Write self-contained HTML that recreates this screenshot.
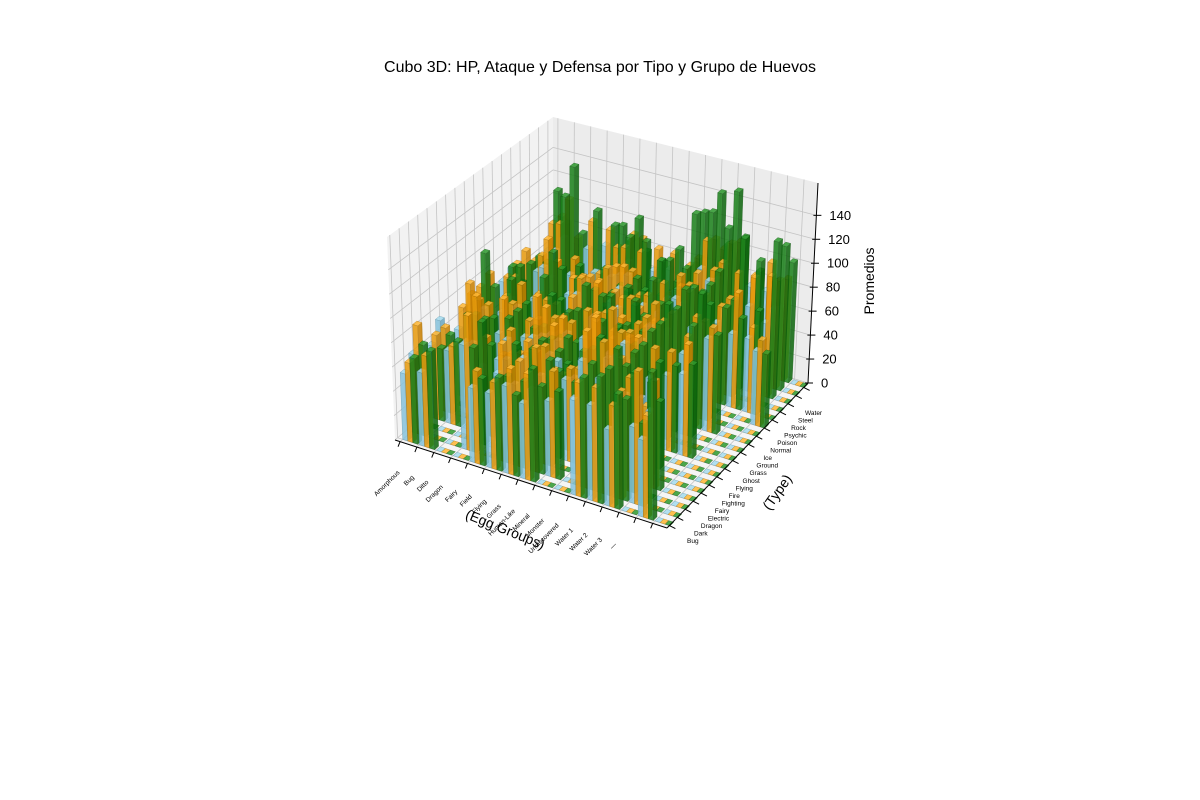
<!DOCTYPE html>
<html><head><meta charset="utf-8"><style>
body{margin:0;background:#fff;}
svg{display:block;font-family:"Liberation Sans","DejaVu Sans",sans-serif;}
</style></head><body>
<svg id="chart" width="1200" height="800" viewBox="0 0 1200 800">
<text x="600" y="72" text-anchor="middle" font-size="16" fill="#000">Cubo 3D: HP, Ataque y Defensa por Tipo y Grupo de Huevos</text>
<g id="panes"></g>
<g id="grid"></g>
<g id="bars"></g>
<g id="axes"></g>
<text x="505" y="534" text-anchor="middle" font-size="14" transform="rotate(22 505 530)">(Egg Groups)</text>
<text x="777" y="497" text-anchor="middle" font-size="14" transform="rotate(-55 777 492)">(Type)</text>
<text x="874" y="281" text-anchor="middle" font-size="14" transform="rotate(-90 874 281)">Promedios</text>
</svg>
<script>
const eggGroups = ["Amorphous","Bug","Ditto","Dragon","Fairy","Field","Flying","Grass","Human-Like","Mineral","Monster","Undiscovered","Water 1","Water 2","Water 3","—"];
const types = ["Bug","Dark","Dragon","Electric","Fairy","Fighting","Fire","Flying","Ghost","Grass","Ground","Ice","Normal","Poison","Psychic","Rock","Steel","Water"];
const zTicks = [0,20,40,60,80,100,120,140];
const hpValues = [
[55,65,0,60,75,0,55,60,58,60,0,65,70,65,60,0,60,80],
[60,0,0,60,0,55,65,70,0,55,60,0,0,65,0,70,75,55],
[0,0,0,0,0,0,0,0,0,0,0,0,48,0,0,0,0,0],
[0,85,80,55,0,70,70,80,0,75,95,80,0,70,0,80,0,70],
[60,0,0,65,75,0,65,70,60,60,0,70,75,0,70,0,60,65],
[60,70,75,60,65,75,70,65,60,65,80,85,75,60,70,65,70,80],
[70,65,80,60,0,65,70,70,0,0,65,0,65,70,75,60,0,60],
[60,65,70,55,70,0,0,70,60,65,0,70,0,60,0,0,0,65],
[0,60,0,65,60,70,70,0,55,60,65,65,70,70,65,0,0,60],
[0,0,60,60,0,0,70,0,55,0,55,65,0,65,60,60,60,0],
[75,100,90,75,0,80,75,80,0,80,85,90,90,80,0,90,70,85],
[75,90,100,85,100,80,90,95,70,80,100,90,95,75,90,85,90,95],
[60,70,75,0,60,70,0,60,0,65,80,75,0,65,70,70,0,70],
[0,60,0,60,0,0,0,65,0,0,75,0,0,60,0,70,0,70],
[60,0,0,0,0,0,0,0,0,0,0,0,0,60,0,60,65,60],
[0,0,0,0,0,0,0,0,0,0,0,0,60,0,0,0,0,0]];
const atkValues = [
[65,90,0,70,70,0,75,80,80,85,0,70,75,80,65,0,85,85],
[75,0,0,65,0,105,85,75,0,70,80,0,0,80,0,95,110,70],
[0,0,0,0,0,0,0,0,0,0,0,0,48,0,0,0,0,0],
[0,110,120,80,0,100,90,100,0,80,120,95,0,85,0,105,0,85],
[75,0,0,70,65,0,80,75,85,75,0,85,80,0,70,0,80,70],
[70,95,100,75,70,110,95,80,75,85,95,90,80,85,80,90,95,85],
[85,85,95,80,0,90,90,80,0,0,95,0,75,90,80,90,0,80],
[85,100,95,70,60,0,0,70,85,80,0,80,0,70,0,0,0,80],
[0,85,0,75,60,110,95,0,75,80,90,75,80,85,65,0,0,70],
[0,0,85,70,0,0,85,0,65,0,70,80,0,80,75,90,90,0],
[90,125,130,85,0,100,90,95,0,85,110,90,95,90,0,115,110,95],
[90,120,140,95,110,100,110,115,95,95,120,100,110,85,100,100,110,105],
[80,85,90,0,55,95,0,80,0,80,90,80,0,80,80,95,0,80],
[0,105,0,85,0,0,0,90,0,0,85,0,0,95,0,95,0,95],
[80,0,0,0,0,0,0,0,0,0,0,0,0,70,0,100,90,85],
[0,0,0,0,0,0,0,0,0,0,0,0,70,0,0,0,0,0]];
const defValues = [
[70,75,0,60,65,0,70,75,110,75,0,80,60,70,70,0,115,80],
[80,0,0,70,0,80,70,65,0,85,90,0,0,75,0,120,140,75],
[0,0,0,0,0,0,0,0,0,0,0,0,48,0,0,0,0,0],
[0,85,100,75,0,85,85,85,0,95,110,90,0,80,0,115,0,90],
[70,0,0,65,70,0,75,70,90,80,0,85,60,0,75,0,100,80],
[75,70,90,60,65,75,70,65,80,75,90,80,60,65,65,100,110,75],
[65,70,90,60,0,70,75,65,0,0,85,0,60,70,75,100,0,70],
[90,70,85,70,70,0,0,70,80,95,0,90,0,75,0,0,0,85],
[0,70,0,65,70,80,65,0,80,75,85,70,60,75,70,0,0,75],
[0,0,100,85,0,0,95,0,105,0,110,120,0,90,95,135,130,0],
[95,100,115,80,0,90,85,90,0,100,130,100,80,90,0,140,150,100],
[100,100,110,90,95,95,100,100,110,100,110,105,95,95,100,130,155,110],
[90,80,95,0,75,85,0,70,0,90,110,95,0,80,80,125,0,85],
[0,65,0,70,0,0,0,75,0,0,80,0,0,75,0,110,0,80],
[115,0,0,0,0,0,0,0,0,0,0,0,0,85,0,130,120,100],
[0,0,0,0,0,0,0,0,0,0,0,0,60,0,0,0,0,0]];

const NS="http://www.w3.org/2000/svg";
const XMIN=-0.3, XMAX=15.85, YMIN=-0.3, YMAX=17.55, ZMAX=167;
const A=[395,440],B=[667,528],C=[808,383],D=[553,305];
const At=[387,237],Bt=[667,313],Ct=[818,183],Dt=[553,117];
function bil(p00,p10,p11,p01,u,v){
  return [(1-u)*(1-v)*p00[0]+u*(1-v)*p10[0]+u*v*p11[0]+(1-u)*v*p01[0],
          (1-u)*(1-v)*p00[1]+u*(1-v)*p10[1]+u*v*p11[1]+(1-u)*v*p01[1]];
}
function P(x,y,z){
  const u=(x-XMIN)/(XMAX-XMIN), v=(y-YMIN)/(YMAX-YMIN), w=z/ZMAX;
  const f=bil(A,B,C,D,u,v), t=bil(At,Bt,Ct,Dt,u,v);
  return [f[0]+w*(t[0]-f[0]), f[1]+w*(t[1]-f[1])];
}
function mk(tag,attrs,parent){
  const e=document.createElementNS(NS,tag);
  for(const k in attrs) e.setAttribute(k,attrs[k]);
  parent.appendChild(e); return e;
}
function pts(arr){return arr.map(p=>p[0].toFixed(1)+","+p[1].toFixed(1)).join(" ");}

const panes=document.getElementById('panes');
let e;
e=mk('polygon',{points:pts([A,D,Dt,At]),fill:'#f2f2f2'},panes);


e=mk('polygon',{points:pts([D,C,Ct,Dt]),fill:'#ececec'},panes);


e=mk('polygon',{points:pts([A,B,C,D]),fill:'#f5f5f5'},panes);



const grid=document.getElementById('grid');
function gl(p,q){const l=mk('line',{x1:p[0],y1:p[1],x2:q[0],y2:q[1],stroke:'#c4c4c4','stroke-width':0.8},grid);

}
eggGroups.forEach((g,i)=>{gl(P(i,YMIN,0),P(i,YMAX,0));gl(P(i,YMAX,0),P(i,YMAX,ZMAX));});
types.forEach((t,j)=>{gl(P(XMIN,j,0),P(XMAX,j,0));gl(P(XMIN,j,0),P(XMIN,j,ZMAX));});
zTicks.forEach(z=>{gl(P(XMIN,YMIN,z),P(XMIN,YMAX,z));gl(P(XMIN,YMAX,z),P(XMAX,YMAX,z));});

const series=[
 {vals:hpValues,off:0,top:'#a6dcef',front:'#86c3dc',side:'#6aa8c2',edge:'#5a93aa',name:'hp'},
 {vals:atkValues,off:0.3,top:'#ffb733',front:'#e89a0c',side:'#c98000',edge:'#a86c00',name:'attack'},
 {vals:defValues,off:0.6,top:'#2e9a2e',front:'#1a801a',side:'#0c660c',edge:'#0a500a',name:'defense'}];
const DX=0.3, DY=0.45;
const list=[];
series.forEach(s=>{
  eggGroups.forEach((g,i)=>{
    types.forEach((t,j)=>{
      const x0=i+s.off, y0=j;
      const c=P(x0+DX/2,y0+DY/2,0);
      list.push({s,x0,y0,h:s.vals[i][j],depth:c[1]});
    });
  });
});
list.sort((a,b)=>a.depth-b.depth);
const barsG=document.getElementById('bars');
list.forEach(b=>{
  const x0=b.x0,x1=b.x0+DX,y0=b.y0,y1=b.y0+DY,h=b.h,s=b.s;
  const grp=mk('g',{opacity:0.85},barsG);
  
  
  if(h>0){
    mk('polygon',{points:pts([P(x0,y0,0),P(x1,y0,0),P(x1,y0,h),P(x0,y0,h)]),fill:s.front,stroke:s.edge,'stroke-width':0.4},grp);
    mk('polygon',{points:pts([P(x1,y0,0),P(x1,y1,0),P(x1,y1,h),P(x1,y0,h)]),fill:s.side,stroke:s.edge,'stroke-width':0.4},grp);
  }
  mk('polygon',{points:pts([P(x0,y0,h),P(x1,y0,h),P(x1,y1,h),P(x0,y1,h)]),fill:s.top,stroke:s.edge,'stroke-width':0.4},grp);
});

const ax=document.getElementById('axes');
function al(p,q,nm){const l=mk('line',{x1:p[0],y1:p[1],x2:q[0],y2:q[1],stroke:'#000','stroke-width':1},ax);

}
al(A,B,'x-axis-line');al(B,C,'y-axis-line');al(C,Ct,'z-axis-line');
eggGroups.forEach((g,i)=>{
  const p=P(i,YMIN,0);
  al(p,[p[0]-2,p[1]+5],'x-tick');
  const f=i/(eggGroups.length-1);
  const lx=400+f*(617-400), ly=473+f*(545-473);
  const t=mk('text',{x:lx,y:ly,'text-anchor':'end','font-size':6.5,fill:'#000',transform:`rotate(-45 ${lx} ${ly})`},ax);
  t.textContent=g;
  
  
});
types.forEach((ty,j)=>{
  const p=P(XMAX,j,0);
  al(p,[p[0]+6,p[1]+3],'y-tick');
  const f=j/(types.length-1);
  const lx=687+f*(805-687), ly=543-f*(543-415);
  const t=mk('text',{x:lx,y:ly,'font-size':6.5,fill:'#000'},ax);
  t.textContent=ty;
  
  
});
zTicks.forEach(z=>{
  const p=P(XMAX,YMAX,z);
  al([p[0]-3,p[1]],[p[0]+5,p[1]],'z-tick');
  const t=mk('text',{x:p[0]+13,y:p[1]+4.5,'font-size':13,fill:'#000'},ax);
  t.textContent=z;
  
  
});
</script>
</body></html>
